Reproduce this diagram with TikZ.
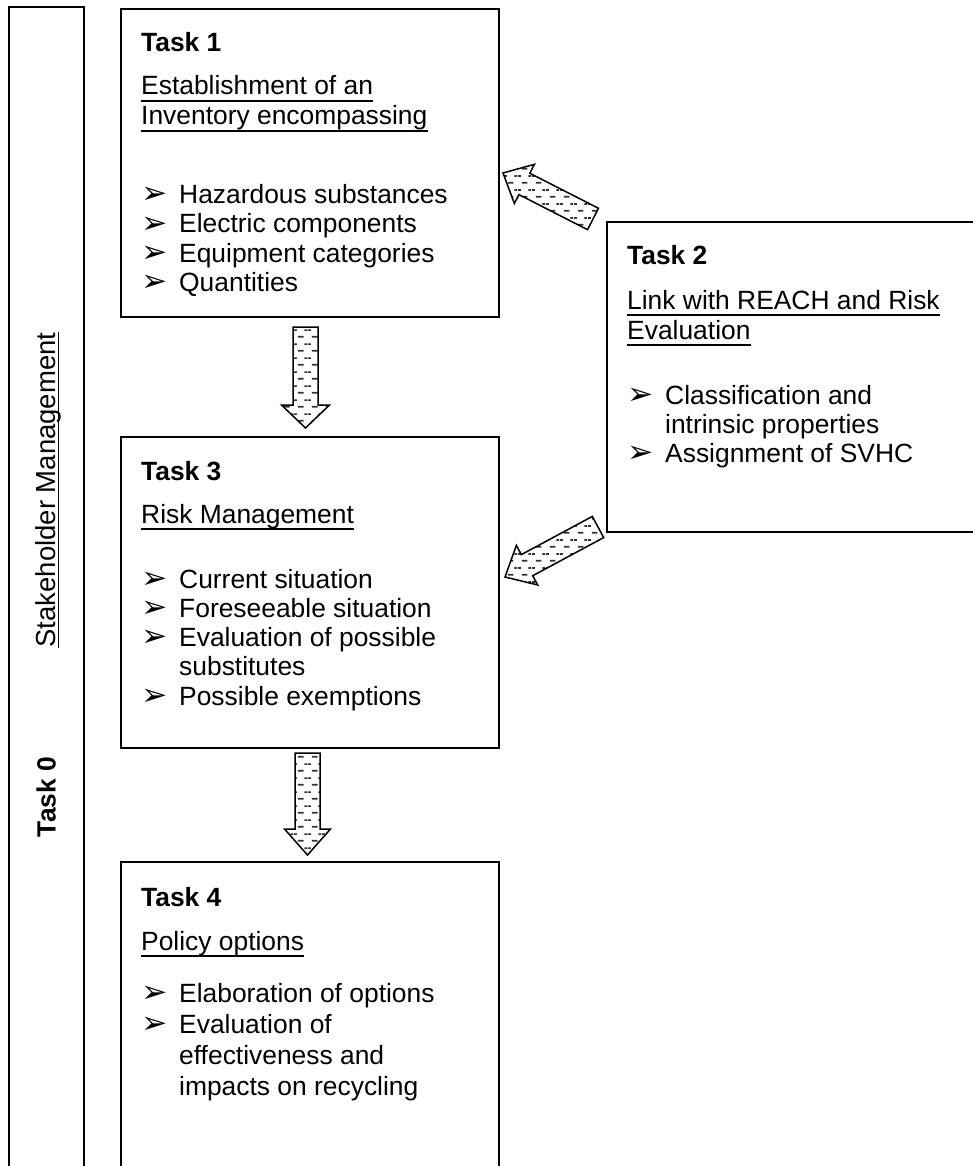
\documentclass[tikz,border=0pt]{standalone}
\usepackage{fontspec}
\setmainfont{Liberation Sans}
\newfontfamily\dejavu{DejaVu Sans}
\usetikzlibrary{calc,patterns}
\pgfdeclarepatternformonly{dashfill}{\pgfqpoint{0pt}{0pt}}{\pgfqpoint{14pt}{14pt}}{\pgfqpoint{14pt}{14pt}}{%
  \pgfsetlinewidth{1.8pt}%
  \pgfpathmoveto{\pgfqpoint{4pt}{3.5pt}}\pgfpathlineto{\pgfqpoint{10pt}{3.5pt}}%
  \pgfpathmoveto{\pgfqpoint{0pt}{10.5pt}}\pgfpathlineto{\pgfqpoint{3pt}{10.5pt}}%
  \pgfpathmoveto{\pgfqpoint{11pt}{10.5pt}}\pgfpathlineto{\pgfqpoint{14pt}{10.5pt}}%
  \pgfusepath{stroke}}
\newcommand\blockarrow[5]{%
  \path ($(#2)!#5!(#1)$) coordinate (bah);
  \draw[blockarr] ($(#1)!#3!90:(#2)$) -- ($(bah)!#3!90:(#2)$) -- ($(bah)!#4!90:(#2)$) -- (#2)
     -- ($(bah)!#4!-90:(#2)$) -- ($(bah)!#3!-90:(#2)$) -- ($(#1)!#3!-90:(#2)$) -- cycle;}
\newcommand\ulnode[1]{\draw[ulline] ([yshift=-6pt]#1.base west) -- ([yshift=-6pt]#1.base east);}
\tikzset{
  frame/.style={draw, line width=1.6pt, inner sep=0pt, anchor=north west},
  txt/.style={inner sep=0pt, anchor=base west, font=\fontsize{26.4}{30}\selectfont},
  ttl/.style={inner sep=0pt, anchor=base west, font=\fontsize{26.4}{30}\selectfont\bfseries},
  bul/.style={inner sep=0pt, anchor=base west, xscale=1.12, yscale=1.1, font=\fontsize{28}{30}\dejavu},
  rtxt/.style={inner sep=0pt, anchor=base, rotate=90, font=\fontsize{27.5}{32}\selectfont},
  blockarr/.style={preaction={fill=white}, pattern=dashfill, pattern color=black!80, draw, line width=1.5pt, line join=miter},
  ulline/.style={line width=1.6pt}
}
\begin{document}
\begin{tikzpicture}[x=1pt,y=-1pt]
\useasboundingbox (0,0) rectangle (973,1166);
% frames
\node[frame, minimum width=75pt, minimum height=1300pt] (b0) at (8,6) {};
\node[frame, minimum width=378pt, minimum height=308pt] (b1) at (120,8) {};
\node[frame, minimum width=500pt, minimum height=310pt] (b2) at (606,221) {};
\node[frame, minimum width=378pt, minimum height=311pt] (b3) at (120,436) {};
\node[frame, minimum width=378pt, minimum height=400pt] (b4) at (120,861) {};
% Task 0 column
\node[rtxt] (sm) at (55.5,490) {Stakeholder Management};
\draw[ulline] ([xshift=3pt]sm.base west) -- ([xshift=3pt]sm.base east);
\node[rtxt, font=\fontsize{26.4}{32}\selectfont\bfseries] (t0) at (55.5,797) {Task 0};
% Task 1
\node[ttl] (t1) at (141,52) {Task 1};
\node[txt] (h1a) at (141,95) {Establishment of an}; \ulnode{h1a}
\node[txt] (h1b) at (141,125) {Inventory encompassing}; \ulnode{h1b}
\node[bul] (p1a) at (141,204) {➢}; \node[txt] (i1a) at (179,204) {Hazardous substances};
\node[bul] (p1b) at (141,233) {➢}; \node[txt] (i1b) at (179,233) {Electric components};
\node[bul] (p1c) at (141,262) {➢}; \node[txt] (i1c) at (179,262) {Equipment categories};
\node[bul] (p1d) at (141,291) {➢}; \node[txt] (i1d) at (179,291) {Quantities};
% Task 2
\node[ttl] (t2) at (627,265) {Task 2};
\node[txt] (h2a) at (627,309) {Link with REACH and Risk}; \ulnode{h2a}
\node[txt] (h2b) at (627,339) {Evaluation}; \ulnode{h2b}
\node[bul] (p2a) at (627,404) {➢}; \node[txt] (i2a) at (665,404) {Classification and};
\node[txt] (i2b) at (665,433) {intrinsic properties};
\node[bul] (p2c) at (627,462) {➢}; \node[txt] (i2c) at (665,462) {Assignment of SVHC};
% Task 3
\node[ttl] (t3) at (141,480) {Task 3};
\node[txt] (h3) at (141,523) {Risk Management}; \ulnode{h3}
\node[bul] (p3a) at (141,588) {➢}; \node[txt] (i3a) at (179,588) {Current situation};
\node[bul] (p3b) at (141,617) {➢}; \node[txt] (i3b) at (179,617) {Foreseeable situation};
\node[bul] (p3c) at (141,646) {➢}; \node[txt] (i3c) at (179,646) {Evaluation of possible};
\node[txt] (i3d) at (179,675) {substitutes};
\node[bul] (p3e) at (141,705) {➢}; \node[txt] (i3e) at (179,705) {Possible exemptions};
% Task 4
\node[ttl] (t4) at (141,906) {Task 4};
\node[txt] (h4) at (141,950) {Policy options}; \ulnode{h4}
\node[bul] (p4a) at (141,1002) {➢}; \node[txt] (i4a) at (179,1002) {Elaboration of options};
\node[bul] (p4b) at (141,1033) {➢}; \node[txt] (i4b) at (179,1033) {Evaluation of};
\node[txt] (i4c) at (179,1064) {effectiveness and};
\node[txt] (i4d) at (179,1095) {impacts on recycling};
% arrows
\coordinate (d1s) at (305.5,327); \coordinate (d1e) at (305.5,428);
\coordinate (d2s) at (307.5,753); \coordinate (d2e) at (307.5,855);
\coordinate (g1s) at (593,219); \coordinate (g1e) at (503,173);
\coordinate (g2s) at (598,527); \coordinate (g2e) at (505,577);
\blockarrow{d1s}{d1e}{12.5pt}{24pt}{23pt}
\blockarrow{d2s}{d2e}{12.5pt}{23pt}{26pt}
\blockarrow{g1s}{g1e}{12pt}{22pt}{24pt}
\blockarrow{g2s}{g2e}{12pt}{22.5pt}{25pt}
\end{tikzpicture}
\end{document}
